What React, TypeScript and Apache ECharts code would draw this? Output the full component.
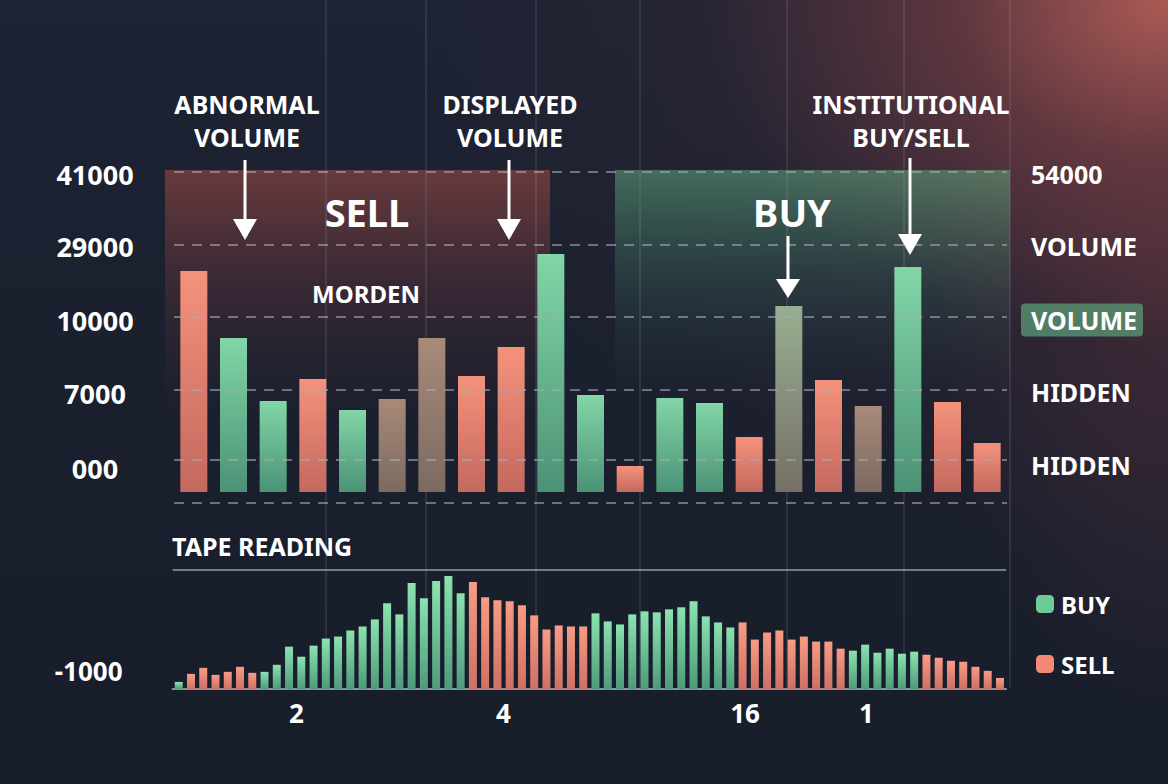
import React, { useEffect, useRef } from "react";
import * as echarts from "echarts";

// ---------- DATA ----------
const volumeCategories = ["1","2","3","4","5","6","7","8","9","10","11","12","13","14","15","16","17","18","19","20","21"];
const volumeValues = [221, 154, 91, 113, 82, 93, 154, 116, 145, 238, 97, 26, 94, 89, 55, 186, 112, 86, 225, 90, 49];
// S = sell, B = buy, M = mixed (brown), O = mixed (olive)
const volumeKinds = ["S","B","B","S","B","M","M","S","S","B","B","S","B","B","S","O","S","M","B","S","S"];
const gridLevels = [320, 247, 175, 102, 32, -11];
const leftTickPositions = [318, 246, 172, 99, 24];
const leftTickLabels = ["41000", "29000", "10000", "7000", "000"];
const rightTickPositions = [318, 246, 172, 100, 27];
const rightTickLabels = ["54000", "VOLUME", "VOLUME", "HIDDEN", "HIDDEN"];

const tapeValues = [7,15,21,14,17,22,16,17,24,42,32,43,50,52,58,62,69,85,74,105,90,107,112,95,106,91,88,87,83,73,59,63,62,62,75,67,64,74,77,76,79,81,87,72,66,61,66,49,56,58,49,52,47,47,40,38,44,36,40,35,37,34,31,28,27,22,18,11];
const tapeSides = ("B" + "SSSSSS" + "BBBBBBBBBBBBBBBBB" + "SSSSSSSSSS" + "BBBBBBBBBBBB" + "SSSSSSSSS" + "BBBBBB" + "SSSSSSS").split("");
const tapeCategories = tapeValues.map((_, i) => String(i + 1));
const tapeTickPositions = [10.1, 27, 46.7, 56.6];
const tapeTickLabels = ["2", "4", "16", "1"];
const tapeLeftPositions = [18];
const tapeLeftLabels = ["-1000"];

const FONT = '"Noto Sans", "DejaVu Sans", sans-serif';

const kindColors: Record<string, [string, string]> = {
  S: ["#f4927c", "#c4695f"],
  B: ["#82d6a7", "#4c9276"],
  M: ["#a88a78", "#7b6a62"],
  O: ["#97ae8f", "#756f66"],
};

function grad(top: string, bottom: string) {
  return new echarts.graphic.LinearGradient(0, 0, 0, 1, [
    { offset: 0, color: top },
    { offset: 1, color: bottom },
  ]);
}

function arrow(x: number, yTop: number, yHead: number, yTip: number) {
  return [
    { type: "line", z: 20, shape: { x1: x, y1: yTop, x2: x, y2: yHead + 2 }, style: { stroke: "#ffffff", lineWidth: 3 } },
    { type: "polygon", z: 20, shape: { points: [[x - 12, yHead], [x + 12, yHead], [x, yTip]] }, style: { fill: "#ffffff" } },
  ];
}

function label(text: string, x: number, y: number, size: number) {
  return {
    type: "text",
    z: 20,
    x,
    y,
    style: {
      text,
      fill: "#ffffff",
      fontSize: size,
      fontWeight: "bold",
      fontFamily: FONT,
      align: "center",
      verticalAlign: "middle",
      textAlign: "center",
      textVerticalAlign: "middle",
    },
  };
}

export default function App() {
  const ref = useRef<HTMLDivElement>(null);

  useEffect(() => {
    if (!ref.current) return;
    const chart = echarts.init(ref.current, null, { renderer: "svg" });

    const verticalXs = [326, 426, 536, 640, 787, 904, 1010];

    const graphics: any[] = [
      {
        type: "rect",
        z: 0,
        shape: { x: 165, y: 170, width: 385, height: 250 },
        style: {
          fill: new echarts.graphic.LinearGradient(0, 0, 0, 1, [
            { offset: 0, color: "rgba(150,74,68,0.62)" },
            { offset: 0.5, color: "rgba(120,58,62,0.28)" },
            { offset: 1, color: "rgba(80,40,50,0)" },
          ]),
        },
      },
      {
        type: "rect",
        z: 0,
        shape: { x: 615, y: 170, width: 395, height: 230 },
        style: {
          fill: new echarts.graphic.LinearGradient(0, 0, 0, 1, [
            { offset: 0, color: "rgba(96,168,126,0.55)" },
            { offset: 0.5, color: "rgba(62,122,102,0.25)" },
            { offset: 1, color: "rgba(40,80,80,0)" },
          ]),
        },
      },
      ...verticalXs.map((x) => ({
        type: "line",
        z: 1,
        shape: { x1: x, y1: 0, x2: x, y2: 688 },
        style: { stroke: "rgba(160,165,180,0.3)", lineWidth: 1 },
      })),
      label("ABNORMAL", 247, 104, 25),
      label("VOLUME", 247, 137, 25),
      label("DISPLAYED", 510, 104, 25),
      label("VOLUME", 510, 137, 25),
      label("INSTITUTIONAL", 911, 104, 25),
      label("BUY/SELL", 911, 137, 25),
      label("SELL", 367, 212, 38),
      label("BUY", 792, 212, 38),
      label("MORDEN", 366, 293, 24),
      {
        type: "text",
        z: 20,
        x: 172,
        y: 546,
        style: {
          text: "TAPE READING",
          fill: "#ffffff",
          fontSize: 25,
          fontWeight: "bold",
          fontFamily: FONT,
          align: "left",
          verticalAlign: "middle",
          textAlign: "left",
          textVerticalAlign: "middle",
        },
      },
      ...arrow(245, 160, 219, 240),
      ...arrow(509, 160, 219, 240),
      ...arrow(788, 236, 279, 298),
      ...arrow(910, 158, 234, 255),
    ];

    const axisLabelBase = { color: "#ffffff", fontSize: 26, fontWeight: "bold", fontFamily: FONT };

    chart.setOption({
      animation: false,
      backgroundColor: "transparent",
      textStyle: { fontFamily: FONT },
      grid: [
        { left: 174, right: 161, top: 172, bottom: 281 },
        { left: 172.6, right: 161.9, top: 570, bottom: 95 },
      ],
      xAxis: [
        { type: "category", gridIndex: 0, data: volumeCategories, show: false },
        {
          type: "category",
          gridIndex: 1,
          data: tapeCategories,
          axisLine: { show: true, lineStyle: { color: "#8b909c", width: 2 } },
          axisTick: { show: false },
          axisLabel: { show: false },
        },
        {
          type: "value",
          gridIndex: 1,
          min: 0,
          max: 68,
          position: "bottom",
          axisLine: { show: false },
          axisTick: { show: false },
          splitLine: { show: false },
          axisLabel: {
            ...axisLabelBase,
            customValues: tapeTickPositions,
            formatter: (v: number) => tapeTickLabels[tapeTickPositions.indexOf(v)] ?? "",
            margin: 11,
          },
        },
      ],
      yAxis: [
        {
          type: "value",
          gridIndex: 0,
          min: -11,
          max: 320,
          axisLine: { show: false },
          axisTick: { show: false },
          splitLine: { show: false },
          axisLabel: {
            ...axisLabelBase,
            fontSize: 27,
            customValues: leftTickPositions,
            formatter: (v: number) => leftTickLabels[leftTickPositions.indexOf(v)] ?? "",
            align: "center",
            margin: 79,
          },
        },
        {
          type: "value",
          gridIndex: 0,
          min: -11,
          max: 320,
          position: "right",
          axisLine: { show: false },
          axisTick: { show: false },
          splitLine: { show: false },
          axisLabel: {
            ...axisLabelBase,
            fontSize: 25,
            customValues: rightTickPositions,
            align: "left",
            margin: 14,
            formatter: (v: number) => {
              const i = rightTickPositions.indexOf(v);
              const t = rightTickLabels[i] ?? "";
              return i === 2 ? `{box|${t}}` : `{plain|${t}}`;
            },
            rich: {
              plain: { color: "#ffffff", fontSize: 25, fontWeight: "bold", fontFamily: FONT, padding: [4, 6, 4, 10] },
              box: {
                color: "#ffffff",
                fontSize: 25,
                fontWeight: "bold",
                fontFamily: FONT,
                padding: [4, 6, 4, 10],
                backgroundColor: "rgba(92,160,120,0.72)",
                borderRadius: 4,
              },
            },
          },
        },
        {
          type: "value",
          gridIndex: 1,
          min: 0,
          max: 118,
          axisLine: { show: false },
          axisTick: { show: false },
          splitLine: { show: false },
          axisLabel: {
            ...axisLabelBase,
            customValues: tapeLeftPositions,
            formatter: (v: number) => tapeLeftLabels[tapeLeftPositions.indexOf(v)] ?? "",
            align: "center",
            margin: 84,
          },
        },
      ],
      legend: {
        data: [
          { name: "BUY", itemStyle: { color: "#6ccb96" } },
          { name: "SELL", itemStyle: { color: "#f28a77" } },
        ],
        orient: "vertical",
        left: 1036,
        top: 592,
        padding: 0,
        itemWidth: 18,
        itemHeight: 18,
        itemGap: 36,
        icon: "roundRect",
        selectedMode: false,
        textStyle: { color: "#ffffff", fontSize: 24, fontWeight: "bold", fontFamily: FONT, padding: [0, 0, 0, 2] },
      },
      graphic: graphics,
      series: [
        {
          name: "gridlines",
          type: "line",
          xAxisIndex: 0,
          yAxisIndex: 0,
          data: [],
          z: 1,
          markLine: {
            silent: true,
            symbol: ["none", "none"],
            label: { show: false },
            lineStyle: { type: [10, 8], color: "rgba(165,170,182,0.6)", width: 2 },
            data: gridLevels.map((v) => ({ yAxis: v })),
          },
        },
        {
          name: "Volume",
          type: "bar",
          xAxisIndex: 0,
          yAxisIndex: 0,
          barWidth: 27,
          z: 3,
          data: volumeValues.map((v, i) => {
            const c = kindColors[volumeKinds[i]];
            return { value: v, itemStyle: { color: grad(c[0], c[1]) } };
          }),
        },
        {
          name: "BUY",
          type: "bar",
          xAxisIndex: 1,
          yAxisIndex: 2,
          barWidth: 8,
          barGap: "-100%",
          z: 3,
          itemStyle: { color: grad("#8ae3b0", "#4f9a7b") },
          data: tapeValues.map((v, i) => (tapeSides[i] === "B" ? v : "-")),
          markLine: {
            silent: true,
            symbol: ["none", "none"],
            label: { show: false },
            lineStyle: { type: "solid", color: "rgba(150,155,168,0.75)", width: 2 },
            data: [{ yAxis: 118 }],
          },
        },
        {
          name: "SELL",
          type: "bar",
          xAxisIndex: 1,
          yAxisIndex: 2,
          barWidth: 8,
          barGap: "-100%",
          z: 3,
          itemStyle: { color: grad("#f89c85", "#cf7064") },
          data: tapeValues.map((v, i) => (tapeSides[i] === "S" ? v : "-")),
        },
      ],
    });

    return () => chart.dispose();
  }, []);

  return (
    <div
      style={{
        position: "fixed",
        left: 0,
        top: 0,
        width: 1168,
        height: 784,
        background:
          "radial-gradient(ellipse 760px 560px at 100% 0%, rgba(176,92,86,0.97) 0%, rgba(132,66,70,0.62) 28%, rgba(62,40,54,0.25) 62%, rgba(27,32,46,0) 100%), " +
          "radial-gradient(ellipse 230px 420px at 100% 38%, rgba(92,50,60,0.5) 0%, rgba(27,32,46,0) 100%), " +
          "linear-gradient(180deg, #1d2333 0%, #1a1f2d 60%, #181d2a 100%)",
      }}
    >
      <div ref={ref} style={{ width: 1168, height: 784 }} />
    </div>
  );
}
